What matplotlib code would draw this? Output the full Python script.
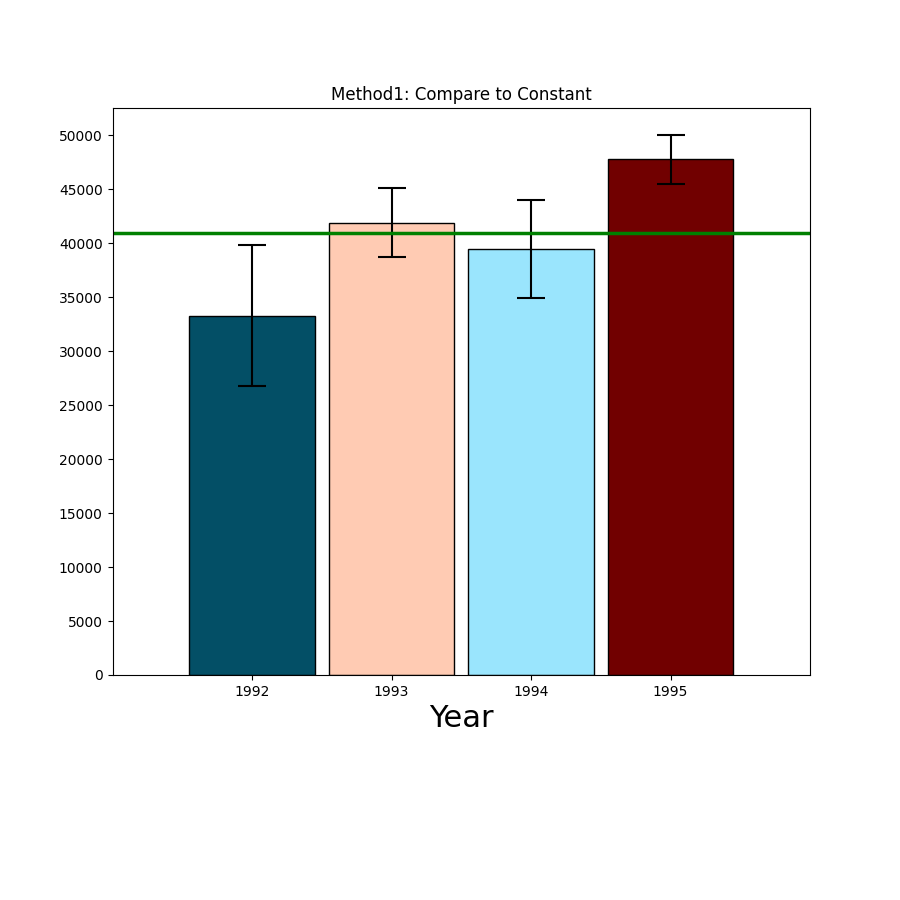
import matplotlib
matplotlib.use("Agg")
import matplotlib.pyplot as plt
from matplotlib.ticker import MultipleLocator
import numpy as np

# data
years   = ["1992", "1993", "1994", "1995"]
means   = [33300, 41900, 39480, 47775]
errors  = [6530, 3200, 4570, 2255]
colors  = ["#034f66", "#ffcbb3", "#9ae5fd", "#710000"]
constant = 40980

fig = plt.figure(figsize=(9, 9), dpi=100)
ax = fig.add_axes([0.125, 0.25, 0.775, 0.63])

x = np.arange(len(years))
ax.bar(x, means, width=0.9, color=colors, edgecolor="black",
       yerr=errors, capsize=10, error_kw={"elinewidth": 1.5, "capthick": 1.5})
ax.axhline(constant, color="green", lw=2.5)

ax.set_xlim(-1, 4)
ax.set_xticks(x)
ax.set_xticklabels(years)
ax.yaxis.set_major_locator(MultipleLocator(5000))
ax.set_xlabel("Year", fontsize=22)
ax.set_title("Method1: Compare to Constant")

fig.savefig("out.png", dpi=100)
